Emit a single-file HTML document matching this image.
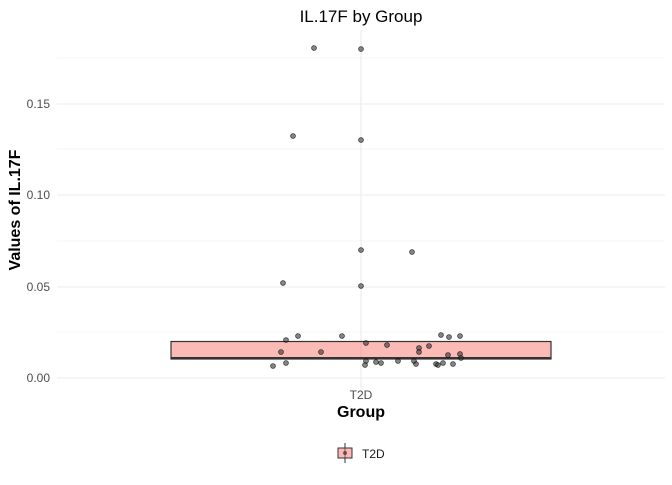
<!DOCTYPE html><html><head><style>body{margin:0;background:#fff}</style></head><body>
<svg width="672" height="480" xmlns="http://www.w3.org/2000/svg" font-family="Liberation Sans, sans-serif">
<rect width="672" height="480" fill="#fff"/>
<g stroke="#ebebeb" stroke-width="0.6"><line x1="57" x2="665" y1="332" y2="332"/><line x1="57" x2="665" y1="241" y2="241"/><line x1="57" x2="665" y1="149" y2="149"/><line x1="57" x2="665" y1="58" y2="58"/></g>
<g stroke="#ebebeb" stroke-width="1.1"><line x1="57" x2="665" y1="378" y2="378"/><line x1="57" x2="665" y1="287" y2="287"/><line x1="57" x2="665" y1="195" y2="195"/><line x1="57" x2="665" y1="104" y2="104"/><line x1="361" x2="361" y1="30" y2="388"/></g>
<rect x="171" y="341.5" width="380" height="17.5" fill="#f8766d" fill-opacity="0.5" stroke="#333" stroke-width="1.2"/>
<line x1="171" x2="551" y1="358" y2="358" stroke="#333" stroke-width="2"/>
<g fill="#333" fill-opacity="0.6" stroke="#000" stroke-opacity="0.7" stroke-width="0.8">
<circle cx="314" cy="48" r="2.4"/><circle cx="361" cy="49" r="2.4"/><circle cx="293" cy="136" r="2.4"/><circle cx="361" cy="140" r="2.4"/><circle cx="361" cy="250" r="2.4"/><circle cx="412" cy="252" r="2.4"/><circle cx="283" cy="283" r="2.4"/><circle cx="361" cy="286" r="2.4"/>
<circle cx="286" cy="340" r="2.4"/><circle cx="298" cy="336" r="2.4"/><circle cx="342" cy="336" r="2.4"/><circle cx="281" cy="352" r="2.4"/><circle cx="321" cy="352" r="2.4"/><circle cx="273" cy="366" r="2.4"/><circle cx="286" cy="363" r="2.4"/><circle cx="366" cy="343" r="2.4"/><circle cx="387" cy="345" r="2.4"/><circle cx="419" cy="348" r="2.4"/><circle cx="419" cy="352" r="2.4"/><circle cx="429" cy="346" r="2.4"/><circle cx="441" cy="335" r="2.4"/><circle cx="449" cy="337" r="2.4"/><circle cx="460" cy="336" r="2.4"/><circle cx="448" cy="355" r="2.4"/><circle cx="460" cy="354" r="2.4"/><circle cx="461" cy="358" r="2.4"/><circle cx="376" cy="362" r="2.4"/><circle cx="366" cy="361" r="2.4"/><circle cx="365" cy="365" r="2.4"/><circle cx="381" cy="363" r="2.4"/><circle cx="398" cy="361" r="2.4"/><circle cx="414" cy="361" r="2.4"/><circle cx="416" cy="364" r="2.4"/><circle cx="436" cy="364" r="2.4"/><circle cx="438" cy="365" r="2.4"/><circle cx="443" cy="363" r="2.4"/><circle cx="453" cy="364" r="2.4"/>
</g>
<g font-size="12" fill="#4d4d4d" text-anchor="end"><text x="50" y="382">0.00</text><text x="50" y="291">0.05</text><text x="50" y="199">0.10</text><text x="50" y="108">0.15</text></g>
<text x="361" y="399" font-size="12" fill="#4d4d4d" text-anchor="middle">T2D</text>
<text x="361" y="417" font-size="16" font-weight="bold" text-anchor="middle">Group</text>
<text transform="translate(20,210) rotate(-90)" font-size="16" font-weight="bold" text-anchor="middle">Values of IL.17F</text>
<text x="361" y="22" font-size="17" text-anchor="middle">IL.17F by Group</text>
<line x1="345" x2="345" y1="443" y2="463" stroke="#333"/>
<rect x="338" y="448" width="14" height="10" fill="#f8766d" fill-opacity="0.5" stroke="#333"/>
<circle cx="345" cy="453" r="2" fill="#333" fill-opacity="0.7"/>
<text x="362" y="458" font-size="12" fill="#1a1a1a">T2D</text>
</svg></body></html>
